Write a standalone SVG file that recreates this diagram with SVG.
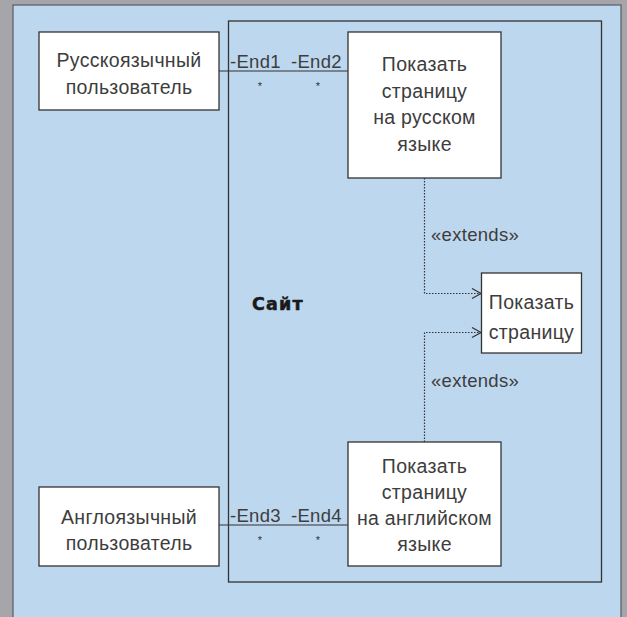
<svg xmlns="http://www.w3.org/2000/svg" width="627" height="617" viewBox="0 0 627 617">
  <defs>
    <style>
      .box { fill: #ffffff; stroke: #333333; stroke-width: 1.3; }
      .lbl { font-family: "Liberation Sans", Arial, sans-serif; font-size: 19.5px; letter-spacing: 0.3px; fill: #3d3d3d; text-anchor: middle; }
      .end { font-family: "Liberation Sans", Arial, sans-serif; font-size: 18.5px; letter-spacing: 0.3px; fill: #3d3d3d; }
      .star { font-family: "Liberation Sans", Arial, sans-serif; font-size: 11px; fill: #333333; text-anchor: middle; }
      .assoc { stroke: #333333; stroke-width: 1.2; fill: none; }
      .dep { stroke: #333333; stroke-width: 1.2; fill: none; stroke-dasharray: 1.5 1.5; }
    </style>
    <marker id="openArrow" markerWidth="12" markerHeight="12" refX="10" refY="6" orient="auto" markerUnits="userSpaceOnUse">
      <path d="M1,1 L10,6 L1,11" fill="none" stroke="#333333" stroke-width="1.2"/>
    </marker>
  </defs>

  <!-- page background -->
  <rect x="0" y="0" width="627" height="617" fill="#a6a6aa"/>
  <rect x="13" y="5" width="608" height="620" fill="#bdd7ef" stroke="#555a60" stroke-width="1.2"/>

  <!-- system boundary -->
  <g id="system">
    <rect x="228.5" y="21" width="373" height="561" fill="none" stroke="#333333" stroke-width="1.3"/>
    <text x="252" y="310" font-family="DejaVu Sans, Verdana, sans-serif" font-size="17.5" font-weight="bold" letter-spacing="1.2" fill="#1a1a1a" stroke="#1a1a1a" stroke-width="0.5">Сайт</text>
  </g>

  <!-- connectors -->
  <g id="connectors">
    <line class="assoc" x1="219" y1="71" x2="348" y2="71"/>
    <text class="end" x="230" y="68">-End1</text>
    <text class="end" x="291" y="68">-End2</text>
    <text class="star" x="260" y="90">*</text>
    <text class="star" x="318" y="90">*</text>

    <line class="assoc" x1="219" y1="525" x2="348" y2="525"/>
    <text class="end" x="230" y="522">-End3</text>
    <text class="end" x="291" y="522">-End4</text>
    <text class="star" x="260" y="544">*</text>
    <text class="star" x="318" y="544">*</text>

    <path class="dep" d="M424.5,178 L424.5,293.5 L481,293.5" marker-end="url(#openArrow)"/>
    <text class="end" x="431" y="241">«extends»</text>
    <path class="dep" d="M424.5,442 L424.5,332.5 L481,332.5" marker-end="url(#openArrow)"/>
    <text class="end" x="431" y="387">«extends»</text>
  </g>

  <!-- actors -->
  <g id="actor-ru">
    <rect class="box" x="39" y="32" width="180" height="78"/>
    <text class="lbl" x="129" y="66.5">Русскоязычный</text>
    <text class="lbl" x="129" y="93.5">пользователь</text>
  </g>
  <g id="actor-en">
    <rect class="box" x="39" y="487" width="180" height="79"/>
    <text class="lbl" x="129" y="523.5">Англоязычный</text>
    <text class="lbl" x="129" y="550">пользователь</text>
  </g>

  <!-- use cases -->
  <g id="uc-ru">
    <rect class="box" x="348" y="32" width="153" height="146"/>
    <text class="lbl" x="424.5" y="71">Показать</text>
    <text class="lbl" x="424.5" y="97.5">страницу</text>
    <text class="lbl" x="424.5" y="124">на русском</text>
    <text class="lbl" x="424.5" y="151">языке</text>
  </g>
  <g id="uc-page">
    <rect class="box" x="481.5" y="273" width="100" height="80"/>
    <text class="lbl" x="531.5" y="309">Показать</text>
    <text class="lbl" x="531.5" y="338.5">страницу</text>
  </g>
  <g id="uc-en">
    <rect class="box" x="348" y="442" width="153" height="124"/>
    <text class="lbl" x="424.5" y="473">Показать</text>
    <text class="lbl" x="424.5" y="499">страницу</text>
    <text class="lbl" x="424.5" y="525">на английском</text>
    <text class="lbl" x="424.5" y="551">языке</text>
  </g>
</svg>
